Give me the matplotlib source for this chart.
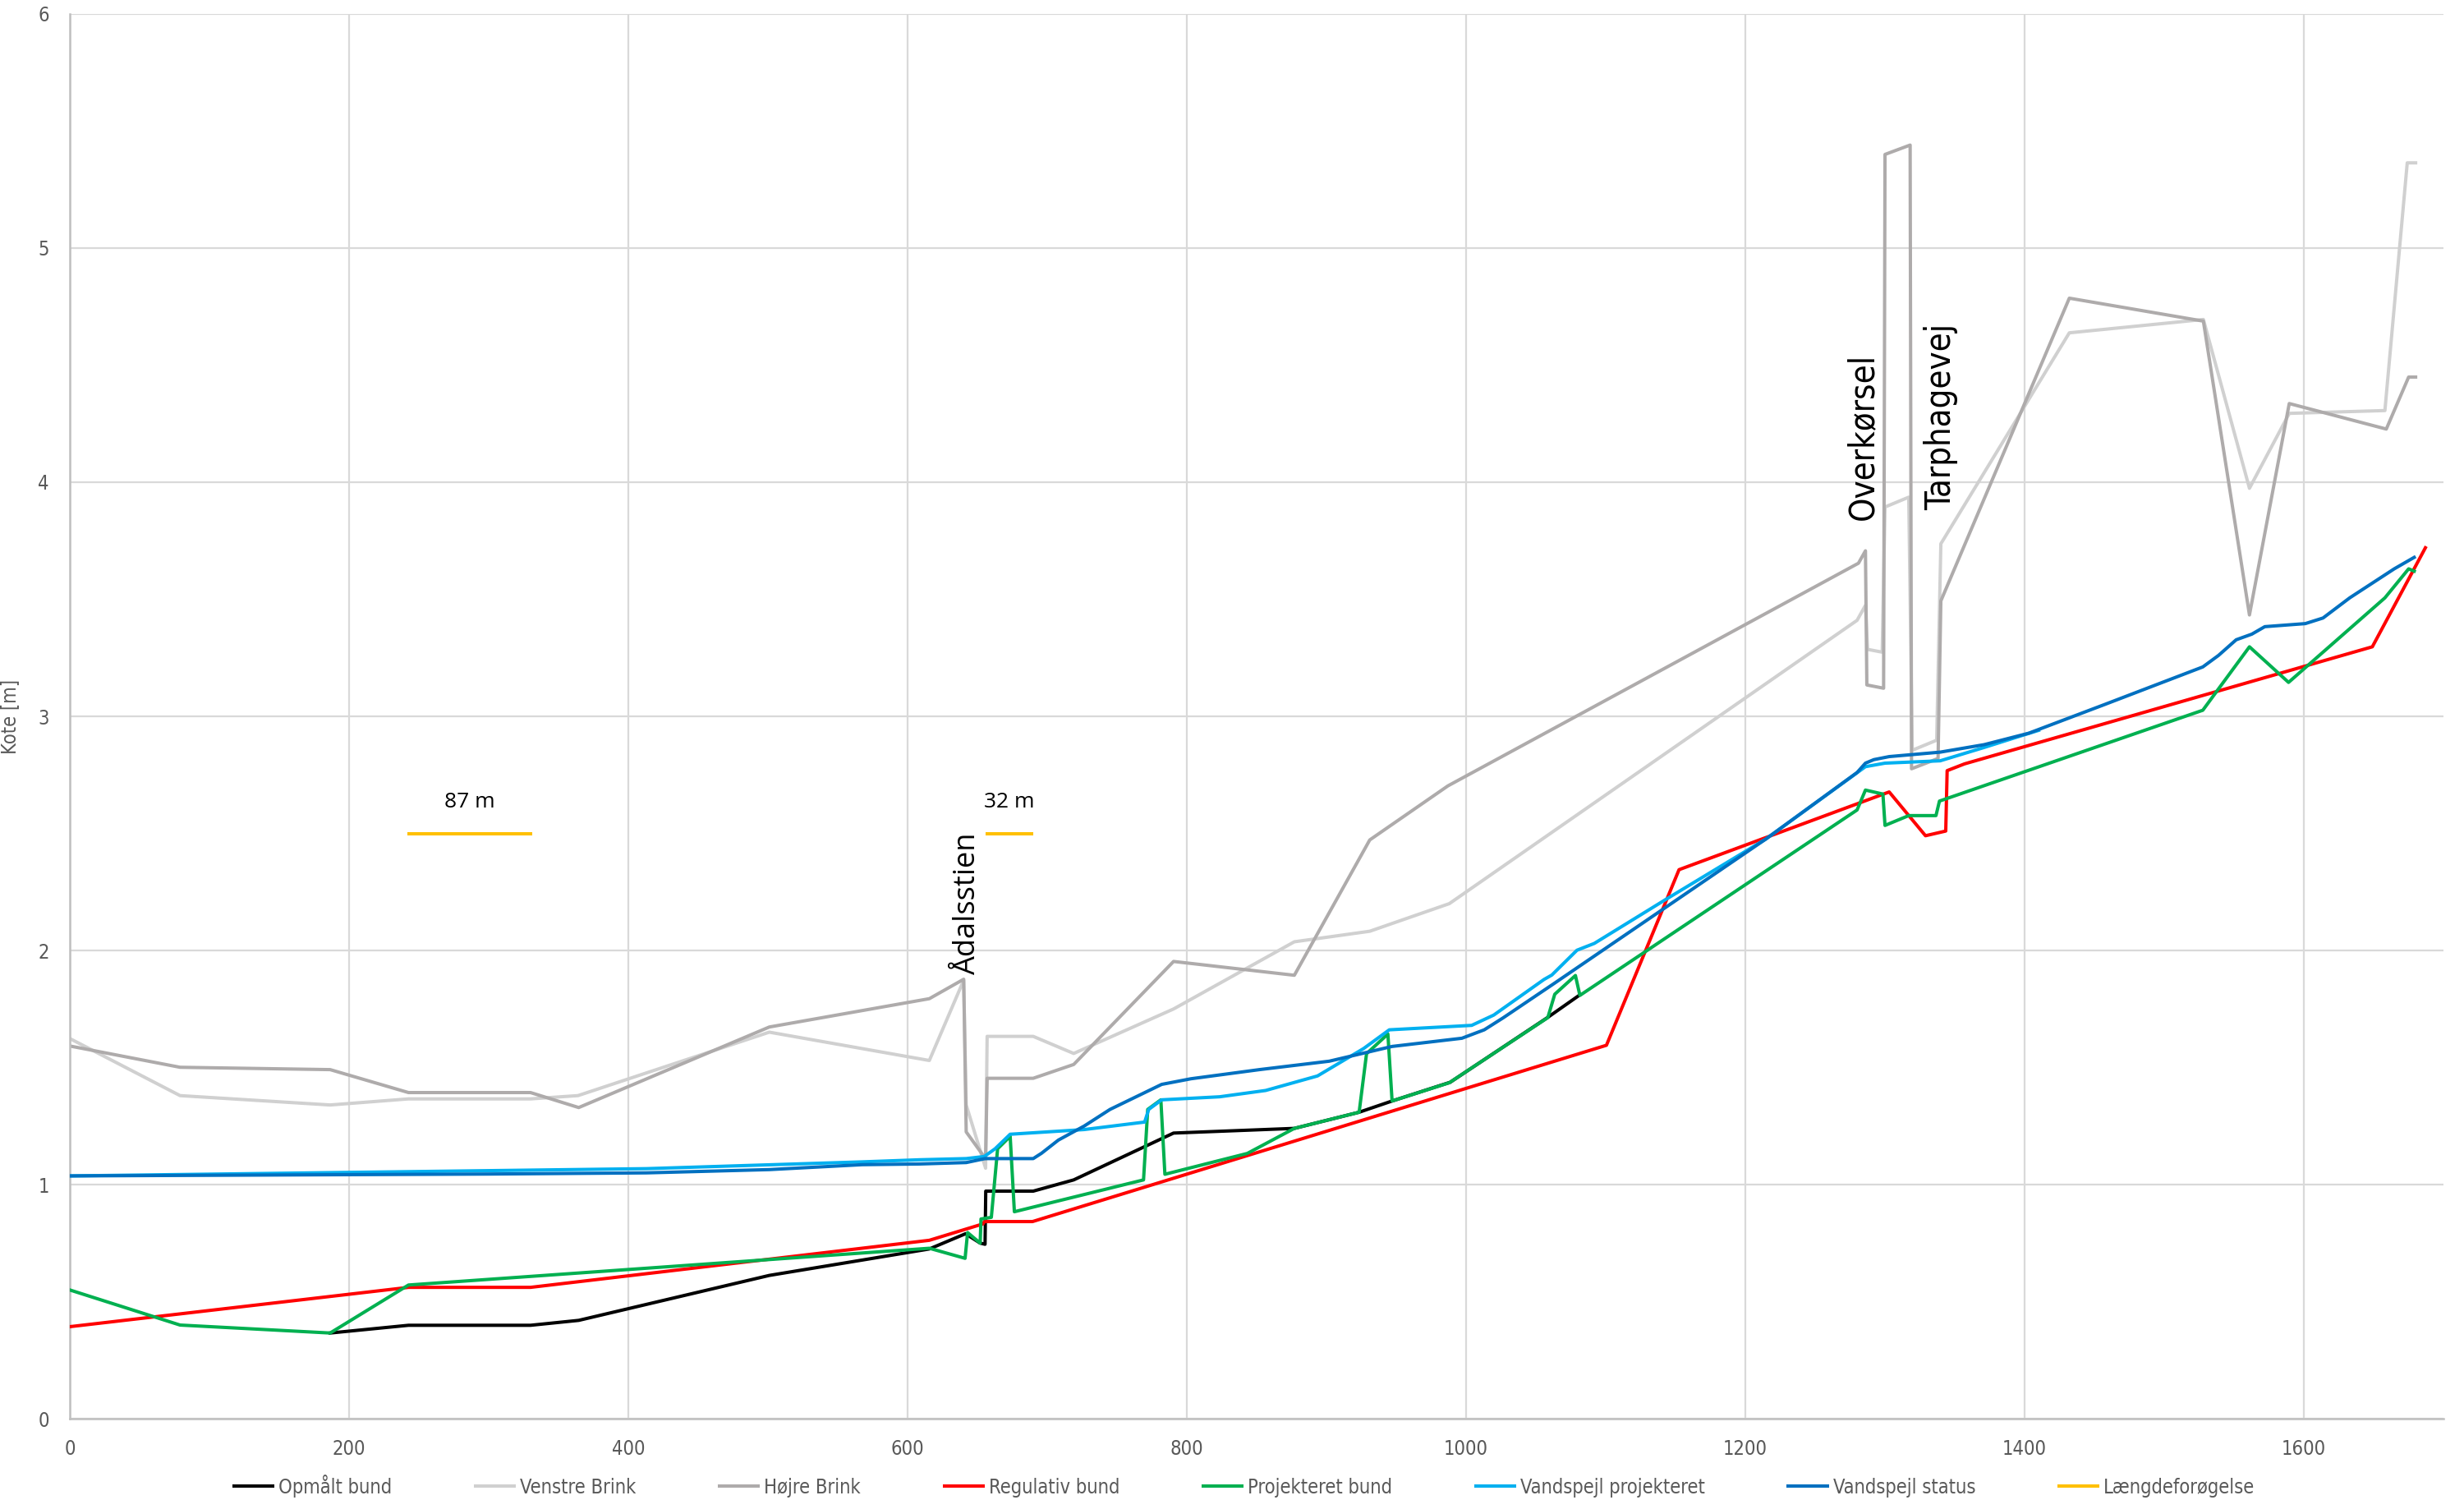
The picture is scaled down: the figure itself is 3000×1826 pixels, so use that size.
import numpy as np
import matplotlib
matplotlib.use("Agg")
import matplotlib.pyplot as plt

# Længdeprofil: stationering [m] og kote [m]
opmaalt_x = [186.5, 242.6, 330, 364.5, 501, 615.6, 641.5, 652, 655.5, 656, 690, 719,
             790.5, 877, 923.4, 947, 988.6, 1058.7, 1081.4]
opmaalt_y = [0.366, 0.399, 0.399, 0.42, 0.612, 0.725, 0.79, 0.75, 0.745, 0.972, 0.972, 1.02,
             1.22, 1.24, 1.309, 1.357, 1.437, 1.715, 1.81]

venstre_x = [0, 79, 186.5, 242.6, 330, 364, 501, 615.6, 640.2, 642, 655.9, 657, 690, 719,
             790.5, 877, 931, 988, 1280, 1286, 1287.5, 1298, 1300, 1317, 1319.5, 1337,
             1340, 1432, 1528, 1561, 1589.5, 1658, 1674, 1680]
venstre_y = [1.624, 1.38, 1.34, 1.366, 1.366, 1.38, 1.651, 1.53, 1.873, 1.34, 1.07, 1.633,
             1.633, 1.56, 1.75, 2.037, 2.082, 2.2, 3.41, 3.474, 3.286, 3.274, 3.894, 3.936,
             2.855, 2.898, 3.737, 4.638, 4.695, 3.974, 4.294, 4.306, 5.364, 5.364]

hoejre_x = [0, 79, 186.5, 242.6, 330, 364.5, 501, 615.6, 640.2, 642, 655.9, 657, 690, 719,
            790.5, 877, 931, 987, 1281, 1286, 1287, 1299, 1300, 1318, 1319, 1338, 1340,
            1432, 1528, 1561, 1589.5, 1659, 1675, 1680]
hoejre_y = [1.592, 1.501, 1.491, 1.393, 1.393, 1.329, 1.673, 1.794, 1.877, 1.225, 1.11, 1.454,
            1.454, 1.513, 1.953, 1.894, 2.472, 2.703, 3.654, 3.707, 3.134, 3.12, 5.40, 5.44,
            2.776, 2.82, 3.493, 4.786, 4.688, 3.433, 4.336, 4.227, 4.449, 4.449]

regulativ_x = [0, 242.6, 330, 615.6, 654, 655, 689.5, 1100.5, 1152.5, 1303, 1329, 1343.5,
               1344.5, 1357, 1649, 1687]
regulativ_y = [0.393, 0.561, 0.561, 0.762, 0.832, 0.842, 0.842, 1.595, 2.345, 2.677, 2.49, 2.51,
               2.768, 2.797, 3.297, 3.72]

projekteret_x = [0, 79, 186.5, 242.6, 615.6, 641.2, 643, 652, 652.6, 660, 664.5, 673.5, 676.5,
                 769, 772, 781.4, 784.3, 843.3, 877, 923.4, 928.7, 944, 947, 988, 1058.5,
                 1063.5, 1078.3, 1081.5, 1280, 1286, 1298.5, 1300, 1317, 1336.5, 1339, 1527.6,
                 1561, 1589, 1658, 1675, 1679]
projekteret_y = [0.55, 0.40, 0.366, 0.571, 0.728, 0.685, 0.795, 0.75, 0.853, 0.86, 1.153, 1.206,
                 0.884, 1.02, 1.321, 1.362, 1.044, 1.133, 1.24, 1.309, 1.559, 1.643, 1.357, 1.435,
                 1.713, 1.813, 1.893, 1.808, 2.60, 2.685, 2.668, 2.534, 2.576, 2.576, 2.638, 3.026,
                 3.297, 3.145, 3.506, 3.63, 3.62]

vs_proj_x = [0, 413, 567.6, 608.8, 642, 655, 662.7, 673.5, 726.5, 769.8, 772.7, 782, 823.5,
             856.5, 893.6, 926.6, 945, 1004, 1019.8, 1055.8, 1061.4, 1079.4, 1091.8, 1143.6,
             1214.7, 1286, 1300, 1339.5, 1371, 1397, 1410]
vs_proj_y = [1.037, 1.068, 1.097, 1.106, 1.111, 1.12, 1.153, 1.215, 1.235, 1.267, 1.321, 1.362,
             1.375, 1.402, 1.464, 1.581, 1.661, 1.68, 1.724, 1.876, 1.895, 2.001, 2.03, 2.22,
             2.476, 2.785, 2.80, 2.81, 2.867, 2.916, 2.94]

vs_status_x = [0, 300, 413, 501, 567.6, 608.8, 642, 655.5, 690, 696, 708, 726.5, 745, 782, 803,
               852, 902, 947, 997, 1013, 1026.5, 1062.8, 1214.7, 1280, 1286, 1292, 1303,
               1339.5, 1371, 1403, 1457.5, 1527.6, 1538.8, 1551.5, 1562.7, 1572, 1601, 1613.7,
               1632.8, 1664.7, 1679]
vs_status_y = [1.037, 1.045, 1.05, 1.064, 1.085, 1.088, 1.094, 1.111, 1.111, 1.134, 1.19, 1.25,
               1.321, 1.428, 1.452, 1.491, 1.527, 1.59, 1.625, 1.661, 1.712, 1.858, 2.476, 2.76,
               2.80, 2.815, 2.828, 2.847, 2.879, 2.928, 3.051, 3.211, 3.26, 3.327, 3.351, 3.383,
               3.396, 3.42, 3.506, 3.63, 3.679]

# to forlængelser, adskilt af NaN
laengde_x = [243, 330, np.nan, 657, 689]
laengde_y = [2.5, 2.5, np.nan, 2.5, 2.5]
laengde_tekst = ["87 m", "32 m"]

stednavne = ["Ådalsstien", "Overkørsel", "Tarphagevej"]
stednavn_x = [643, 1284, 1340]
stednavn_y = [1.9, 3.84, 3.88]

plt.rcParams["font.family"] = ["DejaVu Sans"]
plt.rcParams["font.stretch"] = "condensed"

fig = plt.figure(figsize=(15, 9.13), dpi=200)
ax = fig.add_axes([0.0283, 0.0542, 0.9634, 0.9365])

lw = 1.45
ax.plot(opmaalt_x, opmaalt_y, color="#000000", lw=lw, label="Opmålt bund", zorder=3)
ax.plot(venstre_x, venstre_y, color="#D0D0D0", lw=lw, label="Venstre Brink", zorder=2)
ax.plot(hoejre_x, hoejre_y, color="#AEABAB", lw=lw, label="Højre Brink", zorder=2)
ax.plot(regulativ_x, regulativ_y, color="#FF0000", lw=lw, label="Regulativ bund", zorder=3)
ax.plot(projekteret_x, projekteret_y, color="#00B050", lw=lw, label="Projekteret bund", zorder=3)
ax.plot(vs_proj_x, vs_proj_y, color="#00B0F0", lw=lw, label="Vandspejl projekteret", zorder=3)
ax.plot(vs_status_x, vs_status_y, color="#0070C0", lw=lw, label="Vandspejl status", zorder=3)
ax.plot(laengde_x, laengde_y, color="#FFC000", lw=lw, label="Længdeforøgelse", zorder=3)

# tekst over forlængelserne
seg_mid = [np.nanmean(laengde_x[:2]), np.nanmean(laengde_x[3:])]
for xm, t in zip(seg_mid, laengde_tekst):
    ax.text(xm, 2.59, t, ha="center", va="bottom", fontsize=9.5,
            family=["Open Sans", "DejaVu Sans"], fontstretch="normal", color="black")

ax.text(stednavn_x[0], stednavn_y[0], stednavne[0], rotation=90, ha="center", va="bottom",
        fontsize=13, family=["Open Sans", "DejaVu Sans"], fontstretch="normal", color="black")
for xs, ys, t in zip(stednavn_x[1:], stednavn_y[1:], stednavne[1:]):
    ax.text(xs, ys, t, rotation=90, ha="center", va="bottom", fontsize=15, color="black")

ax.set_xlim(0, 1700)
ax.set_ylim(0, 6)
ax.set_xticks(range(0, 1601, 200))
ax.set_yticks(range(0, 7))
ax.grid(True, color="#D9D9D9", lw=0.8)
ax.set_axisbelow(True)
ax.tick_params(length=0, labelsize=8.5, colors="#595959", pad=9)
for s in ["top", "right"]:
    ax.spines[s].set_visible(False)
for s in ["left", "bottom"]:
    ax.spines[s].set_color("#BFBFBF")
    ax.spines[s].set_linewidth(0.9)
ax.set_ylabel("Kote [m]", fontsize=8.5, color="#595959", labelpad=8)

fig.legend(loc="center", bbox_to_anchor=(0.505, 0.0095), ncol=8, frameon=False,
           fontsize=8.5, labelcolor="#595959", handlelength=2.0, handletextpad=0.3,
           columnspacing=4.3)

fig.savefig("out.png", dpi=200)
